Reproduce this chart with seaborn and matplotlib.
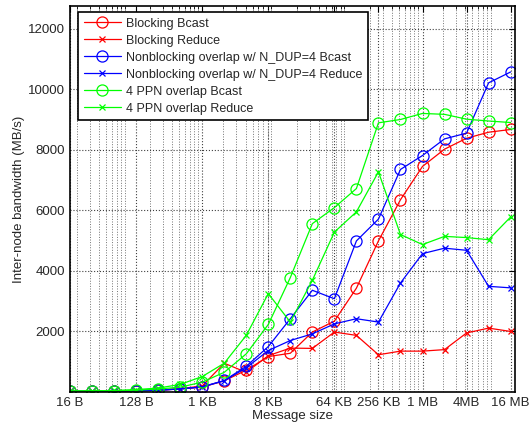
import pandas as pd
import matplotlib.pyplot as plt
import matplotlib.ticker as mticker
import seaborn as sns

# Message sizes in bytes (16 B .. 16 MB)
msg_sizes = [16, 32, 64, 128, 256, 512, 1024, 2048, 4096, 8192, 16384, 32768,
             65536, 131072, 262144, 524288, 1048576, 2097152, 4194304,
             8388608, 16777216]

blocking_bcast = [20, 25, 30, 40, 60, 100, 160, 370, 720, 1170, 1280, 1980,
                  2340, 3430, 4990, 6350, 7450, 8020, 8380, 8580, 8670]
blocking_reduce = [20, 25, 30, 40, 60, 110, 200, 950, 650, 1200, 1450, 1440,
                   1980, 1870, 1230, 1350, 1350, 1400, 1950, 2110, 2000]
nonblock_bcast = [20, 25, 30, 40, 60, 100, 170, 380, 850, 1500, 2420, 3360,
                  3080, 4990, 5710, 7350, 7810, 8360, 8550, 10210, 10570]
nonblock_reduce = [20, 25, 30, 40, 60, 100, 170, 370, 800, 1370, 1700, 1920,
                   2250, 2420, 2310, 3600, 4570, 4750, 4680, 3490, 3440]
ppn_bcast = [30, 35, 40, 60, 100, 160, 325, 650, 1260, 2230, 3780, 5560,
             6090, 6720, 8890, 9000, 9200, 9170, 9010, 8950, 8900]
ppn_reduce = [30, 40, 50, 80, 130, 250, 510, 950, 1870, 3250, 2310, 3690,
              5280, 5950, 7270, 5200, 4870, 5140, 5100, 5030, 5780]

tick_pos = [16, 128, 1024, 8192, 65536, 262144, 1048576, 4194304, 16777216]
tick_labels = ['16 B', '128 B', '1 KB', '8 KB', '64 KB', '256 KB', '1 MB',
               '4MB', '16 MB']

series = [
    ('Blocking Bcast', blocking_bcast, '#ff0000', 'o'),
    ('Blocking Reduce', blocking_reduce, '#ff0000', 'x'),
    ('Nonblocking overlap w/ N_DUP=4 Bcast', nonblock_bcast, '#0000ff', 'o'),
    ('Nonblocking overlap w/ N_DUP=4 Reduce', nonblock_reduce, '#0000ff', 'x'),
    ('4 PPN overlap Bcast', ppn_bcast, '#00ff00', 'o'),
    ('4 PPN overlap Reduce', ppn_reduce, '#00ff00', 'x'),
]

sns.set_style('white')
plt.rcParams['font.family'] = ['Liberation Sans', 'DejaVu Sans']

fig = plt.figure(figsize=(5.32, 4.28), dpi=100)
ax = fig.add_axes([0.1316, 0.0841, 0.8365, 0.902])

for name, vals, color, mk in series:
    df = pd.DataFrame({'size': msg_sizes, 'bw': vals})
    if mk == 'o':
        kw = dict(markersize=8, markerfacecolor='none', markeredgecolor=color,
                  markeredgewidth=0.9)
    else:
        kw = dict(markersize=4, markeredgecolor=color, markeredgewidth=0.9)
    sns.lineplot(data=df, x='size', y='bw', color=color, marker=mk,
                 linewidth=0.9, label=name, ax=ax, **kw)

ax.set_xscale('log', base=2)
ax.set_xlim(16, 16777216 * 2 ** 0.2)
ax.set_ylim(0, 12750)
ax.set_xticks(tick_pos)
ax.set_xticklabels(tick_labels)
ax.xaxis.set_minor_locator(mticker.LogLocator(base=10, subs=range(2, 10), numticks=50))
ax.xaxis.set_minor_formatter(mticker.NullFormatter())
ax.set_yticks([2000, 4000, 6000, 8000, 10000, 12000])

ax.grid(which='major', axis='both', linestyle=':', color='0.25', linewidth=0.8)
ax.grid(which='minor', axis='x', linestyle=':', color='0.45', linewidth=0.7)
ax.tick_params(which='both', direction='in', top=True, right=True,
               labelsize=9.5, color='black')
ax.tick_params(which='major', length=4)
ax.tick_params(which='minor', length=2)
for sp in ax.spines.values():
    sp.set_color('black')
    sp.set_linewidth(1.2)

ax.set_xlabel('Message size', fontsize=9.5, labelpad=1)
ax.set_ylabel('Inter-node bandwidth (MB/s)', fontsize=9.5, labelpad=2)

leg = ax.legend(loc='upper left', bbox_to_anchor=(0.018, 0.984), fontsize=9,
                handlelength=3, handletextpad=0.4, labelspacing=0.4,
                borderpad=0.45, borderaxespad=0, fancybox=False, framealpha=1)
leg.get_frame().set_edgecolor('black')
leg.get_frame().set_linewidth(1.2)

plt.savefig('out.png', dpi=100)
plt.close()
